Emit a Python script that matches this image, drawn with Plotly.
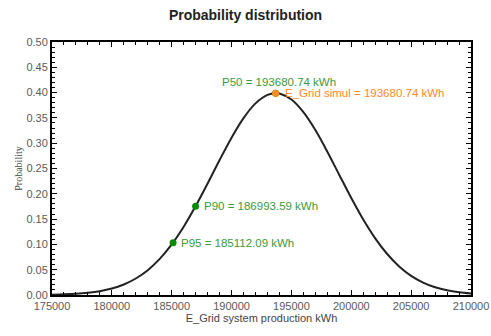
import plotly.graph_objects as go

# Curve samples (kWh, probability density scaled)
curve_x = [175000, 176000, 177000, 178000, 179000, 180000, 181000, 182000, 183000,
           184000, 185000, 186000, 187000, 188000, 189000, 190000, 191000, 192000,
           193000, 193680.74, 194000, 195000, 196000, 197000, 198000, 199000, 200000,
           201000, 202000, 203000, 204000, 205000, 206000, 207000, 208000, 209000, 210000]
curve_y = [0.0007, 0.0013, 0.0024, 0.0044, 0.0076, 0.0128, 0.0208, 0.0326, 0.0491,
           0.0714, 0.1000, 0.1350, 0.1758, 0.2205, 0.2667, 0.3110, 0.3496, 0.3787,
           0.3955, 0.3989, 0.3982, 0.3863, 0.3614, 0.3259, 0.2832, 0.2373, 0.1916,
           0.1491, 0.1119, 0.0810, 0.0565, 0.0379, 0.0246, 0.0153, 0.0092, 0.0054, 0.0030]

# Marked points
p_names = ["P95", "P90", "P50"]
p_x = [185112.09, 186993.59, 193680.74]
p_y = [0.1031, 0.1755, 0.3989]
simul_x = [193680.74]
simul_y = [0.3989]

green_pt = "#0a8a0a"
green_txt = "#3c9a3c"
orange = "#ff8a1e"

fig = go.Figure()
fig.add_trace(go.Scatter(x=curve_x, y=curve_y, mode="lines", line=dict(color="#222222", width=2, shape="spline"),
                         hoverinfo="skip", showlegend=False))
fig.add_trace(go.Scatter(x=p_x, y=p_y, mode="markers", marker=dict(color=green_pt, size=7),
                         showlegend=False))
fig.add_trace(go.Scatter(x=simul_x, y=simul_y, mode="markers", marker=dict(color=orange, size=7),
                         showlegend=False))

lab_font = dict(family="Liberation Sans, Arial, sans-serif", size=11.5, color=green_txt)
for name, x, y in zip(p_names, p_x, p_y):
    txt = f"{name} = {x:.2f} kWh"
    if name == "P50":
        fig.add_annotation(x=x, y=y, text=txt, showarrow=False, xanchor="center", yanchor="bottom",
                           xshift=3, yshift=3, font=lab_font)
    else:
        fig.add_annotation(x=x, y=y, text=txt, showarrow=False, xanchor="left", yanchor="middle",
                           xshift=6, font=lab_font)
fig.add_annotation(x=simul_x[0], y=simul_y[0], text=f"E_Grid simul = {simul_x[0]:.2f} kWh", showarrow=False,
                   xanchor="left", yanchor="middle", xshift=7,
                   font=dict(family="Liberation Sans, Arial, sans-serif", size=11.5, color=orange))

axis_common = dict(showgrid=False, zeroline=False, showline=True, linecolor="black", linewidth=2,
                   mirror="allticks", ticks="inside", ticklen=5, tickcolor="black", tickwidth=1,
                   automargin=False,
                   tickfont=dict(family="Liberation Sans, Arial, sans-serif", size=11, color="#5a5a5a"))

fig.update_xaxes(range=[175000, 210000], dtick=5000, tick0=175000, tickformat="d",
                 minor=dict(dtick=1000, ticks="inside", ticklen=3, tickcolor="black"),
                 title=dict(text="E_Grid system production kWh", standoff=0,
                            font=dict(family="Liberation Sans, Arial, sans-serif", size=11, color="#444444")),
                 **axis_common)
fig.update_yaxes(range=[0, 0.5], dtick=0.05, tickformat=".2f",
                 minor=dict(dtick=0.01, ticks="inside", ticklen=3, tickcolor="black"),
                 title=dict(text="Probability", standoff=2,
                            font=dict(family="Liberation Serif, Times New Roman, serif", size=10, color="#444444")),
                 **axis_common)

fig.update_layout(
    width=491, height=336,
    margin=dict(l=52, r=20, t=42, b=41),
    paper_bgcolor="white", plot_bgcolor="white",
    title=dict(text="<b>Probability distribution</b>", x=0.5, xanchor="center", y=0.955, yanchor="middle",
               font=dict(family="Liberation Sans, Arial, sans-serif", size=14, color="#222222")),
    showlegend=False,
)

fig.write_html("out.html", config={"displayModeBar": False},
               post_script="document.body.style.margin='0';")
